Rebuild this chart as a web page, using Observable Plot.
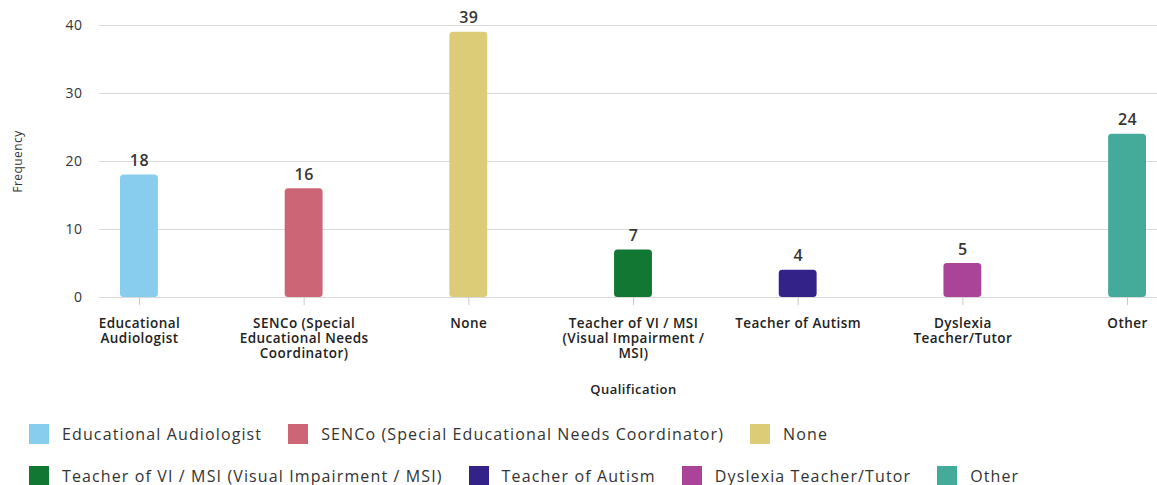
<!DOCTYPE html>
<html>
<head>
<meta charset="utf-8">
<script src="https://cdn.jsdelivr.net/npm/d3@7"></script>
<script src="https://cdn.jsdelivr.net/npm/@observablehq/plot@0.6"></script>
<style>
  html, body { margin: 0; padding: 0; background: #fff; }
  body { font-family: "Open Sans", "Noto Sans", sans-serif; color: #333; width: 1157px; }
  #legend { display: flex; flex-wrap: wrap; padding-left: 29px; margin-top: 24px; row-gap: 22px; column-gap: 26px; font-size: 16px; letter-spacing: 1.12px; color: #333; }
  .item { display: flex; align-items: center; height: 20px; }
  .sw { width: 20px; height: 20px; margin-right: 13px; box-sizing: border-box; }
  #chart svg text { letter-spacing: 0.45px; }
</style>
</head>
<body>
<div id="chart"></div>
<div id="legend"></div>
<script>
// Qualification categories, their counts and bar colours
const categories = [
  "Educational Audiologist",
  "SENCo (Special Educational Needs Coordinator)",
  "None",
  "Teacher of VI / MSI (Visual Impairment / MSI)",
  "Teacher of Autism",
  "Dyslexia Teacher/Tutor",
  "Other"
];
const counts = [18, 16, 39, 7, 4, 5, 24];
const colors = ["#88CCEE", "#CC6677", "#DDCC77", "#117733", "#332288", "#AA4499", "#44AA99"];
// Wrapped tick labels for the x axis
const tickLabels = [
  "Educational\nAudiologist",
  "SENCo (Special\nEducational Needs\nCoordinator)",
  "None",
  "Teacher of VI / MSI\n(Visual Impairment /\nMSI)",
  "Teacher of Autism",
  "Dyslexia\nTeacher/Tutor",
  "Other"
];
const yTicks = [0, 10, 20, 30, 40];

const data = categories.map((q, i) => ({q, n: counts[i]}));
const tickMap = new Map(categories.map((q, i) => [q, tickLabels[i]]));

const chart = Plot.plot({
  width: 1157,
  height: 400,
  marginLeft: 99,
  marginRight: 0,
  marginTop: 25,
  marginBottom: 103,
  style: {fontFamily: "'Open Sans', 'Noto Sans', sans-serif", color: "#333", background: "#fff"},
  x: {domain: categories, range: [56.6, 1209.4], paddingInner: 0.77, paddingOuter: 0.385, round: false},
  y: {domain: [0, 40]},
  color: {domain: categories, range: colors},
  marks: [
    Plot.gridY(yTicks, {stroke: "#d9d9d9", strokeOpacity: 1}),
    Plot.axisY(yTicks, {tickSize: 0, tickPadding: 17, fontSize: 14, label: null}),
    Plot.axisX({
      tickSize: 8, tickPadding: 12, stroke: "#c8c8c8",
      tickFormat: d => tickMap.get(d),
      fontSize: 13.5, fontWeight: 600, lineHeight: 1.12, fill: "#222",
      label: null
    }),
    Plot.barY(data, {x: "q", y: "n", fill: "q", rx: 3.5}),
    Plot.text(data, {x: "q", y: "n", text: d => String(d.n), dy: -14, fontSize: 16, fontWeight: 600, fill: "#363636"}),
    Plot.text(["Frequency"], {text: d => d, frameAnchor: "left", textAnchor: "middle", rotate: -90, dx: -81, fontSize: 12, fill: "#333"}),
    Plot.text(["Qualification"], {text: d => d, frameAnchor: "bottom", dx: 5, dy: 96, fontSize: 13, fontWeight: 600, fill: "#222"})
  ]
});
document.getElementById("chart").appendChild(chart);

// Legend
const legend = document.getElementById("legend");
categories.forEach((q, i) => {
  const item = document.createElement("div");
  item.className = "item";
  const sw = document.createElement("span");
  sw.className = "sw";
  sw.style.background = colors[i];
  const label = document.createElement("span");
  label.textContent = q;
  item.appendChild(sw);
  item.appendChild(label);
  legend.appendChild(item);
});
</script>
</body>
</html>
